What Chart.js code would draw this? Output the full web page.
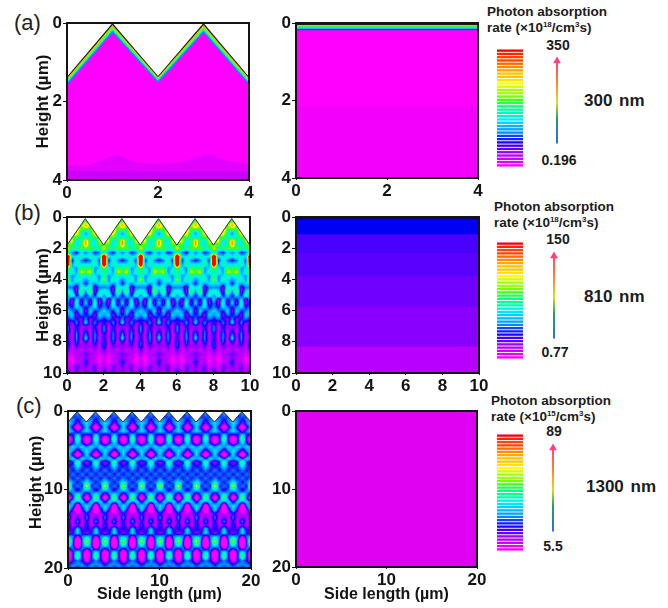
<!DOCTYPE html>
<html><head><meta charset="utf-8">
<style>
html,body{margin:0;padding:0;background:#fff;width:668px;height:608px;overflow:hidden}
canvas{position:absolute}
.t{position:absolute;font-family:"Liberation Sans",Arial,sans-serif;font-weight:bold;color:#1c1c1c;white-space:nowrap;line-height:1}
.p{font-weight:normal;font-size:22px;color:#222}
.h{font-size:13.5px}
.v{font-size:14px;transform:translateX(-50%)}
.w{font-size:17px;word-spacing:2px}
sup{font-size:8px;vertical-align:baseline;position:relative;top:-5px}
</style>
<script src="https://cdn.jsdelivr.net/npm/chart.js@4/dist/chart.umd.min.js"></script>
</head><body>
<div class="t p" style="left:14px;top:12px">(a)</div>
<div class="t p" style="left:14px;top:202px">(b)</div>
<div class="t p" style="left:16px;top:395px">(c)</div>
<div class="t h" style="left:487px;top:5px">Photon absorption</div>
<div class="t h" style="left:487px;top:21px">rate (×10<sup>18</sup>/cm<sup>3</sup>s)</div>
<div class="t h" style="left:494px;top:200px">Photon absorption</div>
<div class="t h" style="left:494px;top:216px">rate (×10<sup>18</sup>/cm<sup>3</sup>s)</div>
<div class="t h" style="left:491px;top:394px">Photon absorption</div>
<div class="t h" style="left:491px;top:410px">rate (×10<sup>15</sup>/cm<sup>3</sup>s)</div>
<div class="t v" style="left:558px;top:38px">350</div>
<div class="t v" style="left:559px;top:153px">0.196</div>
<div class="t v" style="left:558px;top:232px">150</div>
<div class="t v" style="left:555px;top:345px">0.77</div>
<div class="t v" style="left:554px;top:424px">89</div>
<div class="t v" style="left:553px;top:539px">5.5</div>
<div class="t w" style="left:584px;top:92px">300 nm</div>
<div class="t w" style="left:584px;top:288px">810 nm</div>
<div class="t w" style="left:586px;top:478px">1300 nm</div>
<script>
// ---------- axis ticks ----------
const ticksA = [0, 2, 4];
const ticksB = [0, 2, 4, 6, 8, 10];
const ticksCx = [0, 10, 20];
const ticksCy = [0, 10, 20];

// ---------- (a) 300 nm, textured: bands following the surface (depth in µm) ----------
const aX = [0, 1, 2, 3, 4];
const aSurface = [1.37, 0, 1.35, 0, 1.37];
const aBand1 = [1.41, 0.05, 1.38, 0.05, 1.41];
const aBand2 = [1.45, 0.10, 1.41, 0.10, 1.45];
const aBand3 = [1.49, 0.15, 1.44, 0.15, 1.49];
const aBand4 = [1.53, 0.20, 1.47, 0.20, 1.53];
const aBand5 = [1.58, 0.25, 1.52, 0.25, 1.58];
const aDeepX = [0, 0.5, 1.1, 1.5, 2, 2.5, 3.1, 3.5, 4];
const aDeep = [3.62, 3.62, 3.35, 3.55, 3.6, 3.55, 3.33, 3.5, 3.6];
const aDeeperX = [0, 4];
const aDeeper = [3.78, 3.78];
// (a) planar
const aPlanarX = [0, 4];
const aPlanarDepths = [0, 0.05, 0.08, 0.12, 0.15, 0.19, 2.15];
const aPlanarColors = ['#201a10', '#c8d000', '#40f040', '#00e0ff', '#4030f0', '#ff00ff', '#f200fb'];

// ---------- (b) 810 nm planar bands ----------
const bPlanarX = [0, 10];
const bPlanarDepths = [0, 0.15, 1.1, 2.3, 3.8, 5.75, 8.3];
const bPlanarColors = ['#00007a', '#0000f4', '#4a00ff', '#5a00ff', '#7000ff', '#8a00ff', '#b800ff'];

// ---------- (b) 810 nm textured: one 2 µm unit cell, level 0 (magenta) to 9 (red) ----------
// columns: 0, .25, .5, .75, 1 µm from the pyramid axis; rows every 0.25 µm of depth
const bUnitCols = [0, 0.25, 0.5, 0.75, 1];
const bUnitRows = [
 [5,5,5,5,5],[6,5,5,5,5],[8,6,5,5,5],[6,6,7.5,5,5],[3,5,7.5,6,5],[4,5,6,6,5],[8,5,4,7,6],[8,5,4,6,6],
 [5.5,6,5,5,7],[3,4,2,3,5],[4,5,4,4,12],[2,3,5,2,13],[4,4,5,3,12],[5,6,3,4,6],[6,7,3,5,5],[4,5,4,3,5],
 [3,4,5,3,7],[2,4,3,4,4],[4,5,1,3,3],[3,6,1,4,5],[2,4,2,5,3],[3,2,4,1,4],[4,1,5,1,3],[2,3,4,2,3],
 [1,4,2,3,4],[2,3,1,4,3],[3,1,2,3,2],[4,1,3,1,2],
 [1,1,2,0.5,3],[2,0.5,2.5,0.5,3],[3,0.5,3,0.5,2],[4,0.5,3,0.5,2],[2,0.5,2.5,0.5,2.5],[1,1,1.5,0.5,2.5],
 [1,0.5,1,0.5,1.5],[1.5,1,0.8,0.3,1],[1.2,0.8,0.8,0,0.5],[2,0.8,0.6,0,0.8],[1.5,0.8,1.5,0.3,0.8],[1,0.8,1.5,0.5,1.5],[2,1,1.5,0.8,2.5]
];
const bSurfaceX = [0,1,2,3,4,5,6,7,8,9,10];
const bSurface = [1.8,0.1,1.8,0.1,1.8,0.1,1.8,0.1,1.8,0.1,1.8];

// ---------- (c) 1300 nm textured: one 2 µm unit cell ----------
// columns: 0, .5, 1 µm from the pyramid axis; rows every 0.5 µm of depth
const cUnitCols = [0, 0.5, 1];
const cUnitRows = [
 [3,3,3],[3,2,3],[2,3,3],[1,3,4],[-1,1.5,4],[1,3,4],[4,2,1.5],[6,1.5,-1.5],[4,2,0],[3,4,3],
 [1,3,4],[-1.5,1.5,4],[2,4,3],[6,2,1],[4,2.5,2],[3,2,3],[2,3,2],[3,2,3],[2,3,4],[3,2,7.5],
 [1.5,3,4],[4,3,1],[6.5,2,-1],[3,4,1.5],[-1.5,3,4],[-1.5,1.5,4],[0.5,0.8,2],[1.5,0.5,3],[3,0.5,2],[1.5,0.5,2.5],
 [4,1.5,2],[4,2,1],[0,3,4],[-3,2.5,7],[-3,2.5,5],[1,3,1.5],[5,2,-2],[6,2,-2],[3,2,0],[3,3,2],[2,3,3]
];
const cSurfaceX = [0,1,2,3,4,5,6,7,8,9,10,11,12,13,14,15,16,17,18,19,20];
const cSurface = [1.4,0.1,1.4,0.1,1.4,0.1,1.4,0.1,1.4,0.1,1.4,0.1,1.4,0.1,1.4,0.1,1.4,0.1,1.4,0.1,1.4];
// (c) planar
const cPlanarX = [0, 20];
const cPlanarDepths = [0];
const cPlanarColors = ['#e000f2'];

// ---------- colour legend: levels of the stripes from top to bottom ----------
const legendLevels = [9,8.8,8.6,8.4,8.2,8,7.8,7.6,7.4,7.2,7,6.8,6.6,6.4,6.2,6,5.6,5.3,5,4.7,4.4,4.1,3.8,3.5,3.2,2.9,2.6,2.3,2,1.7,1.4,1.1,0.8,0.5,0.2,0];
const arrowA = [0.196, 350], arrowB = [0.77, 150], arrowC = [5.5, 89];

// ---------- colour map ----------
const stops = [[255,0,255],[160,0,255],[24,0,255],[0,140,255],[0,232,255],[0,255,160],[70,255,20],[255,255,0],[255,140,0],[255,0,0]];
function rgbOf(v){
  v = Math.max(0, Math.min(9, Math.round(v*4)/4));
  const i = Math.min(8, Math.floor(v)), f = v-i, a = stops[i], b = stops[i+1];
  return [a[0]+(b[0]-a[0])*f, a[1]+(b[1]-a[1])*f, a[2]+(b[2]-a[2])*f];
}
function cssOf(v){const c=rgbOf(v);return `rgb(${c[0]|0},${c[1]|0},${c[2]|0})`;}

// expand a unit cell over the panel width, as contour nodes {x,y,v}
function expand(rows, cols, width, rowStep){
  const step = cols[1]-cols[0], out = [];
  rows.forEach((r,ri)=>{
    for(let k=0;k<=Math.round(width/step);k++){
      const x = k*step, m = x%2, u = Math.abs(m-1);
      out.push({x, y: ri*rowStep, v: r[Math.round(u/step)]});
    }
  });
  return out;
}

// contour plugin: paints dataset nodes through the chart's scales
const contour = {
  id:'contour',
  beforeDatasetsDraw(chart){
    const ds = chart.data.datasets.find(d=>d.contour);
    if(!ds) return;
    const xs=[...new Set(ds.data.map(d=>d.x))].sort((a,b)=>a-b);
    const ys=[...new Set(ds.data.map(d=>d.y))].sort((a,b)=>a-b);
    const dx=xs[1]-xs[0], dy=ys[1]-ys[0], nx=xs.length, ny=ys.length;
    const g=new Float32Array(nx*ny);
    ds.data.forEach(d=>{g[Math.round(d.y/dy)*nx+Math.round(d.x/dx)]=d.v;});
    const A=chart.chartArea, X=chart.scales.x, Y=chart.scales.y;
    const L=Math.round(A.left), T=Math.round(A.top), W=Math.round(A.right)-L, H=Math.round(A.bottom)-T;
    const img=chart.ctx.createImageData(W,H);
    for(let j=0;j<H;j++){
      const fy=Math.max(0,Math.min(ny-1.001,Y.getValueForPixel(T+j)/dy)), j0=Math.floor(fy), ty=fy-j0;
      for(let i=0;i<W;i++){
        const fx=Math.max(0,Math.min(nx-1.001,X.getValueForPixel(L+i)/dx)), i0=Math.floor(fx), tx=fx-i0;
        const v=(g[j0*nx+i0]*(1-tx)+g[j0*nx+i0+1]*tx)*(1-ty)+(g[(j0+1)*nx+i0]*(1-tx)+g[(j0+1)*nx+i0+1]*tx)*ty;
        const c=rgbOf(v), o=(j*W+i)*4;
        img.data[o]=c[0];img.data[o+1]=c[1];img.data[o+2]=c[2];img.data[o+3]=255;
      }
    }
    chart.ctx.putImageData(img,L,T);
  }
};
const frame = {
  id:'frame',
  afterDraw(chart){
    if(chart.config.options.noFrame) return;
    const a=chart.chartArea,c=chart.ctx;
    c.save();c.strokeStyle='#141414';c.lineWidth=2;
    c.strokeRect(a.left,a.top,a.right-a.left,a.bottom-a.top);c.restore();
  }
};
Chart.register(contour,frame);

const FONT='"Liberation Sans",Arial,sans-serif';
function layerDs(xs,ys,color){
  return {type:'line',data:xs.map((x,i)=>({x,y:ys[i]})),fill:'start',backgroundColor:color,borderColor:color,borderWidth:0,pointRadius:0,tension:0};
}
function flat(xs,depth){return xs.map(()=>depth);}
function panel(id,plot,xMax,yMax,xt,yt,datasets,titleY,titleX,leftW,bottomH){
  const cv=document.createElement('canvas');
  const cl=plot.x0-leftW, ct=plot.y0-12, cw=plot.x1-plot.x0+leftW+14, ch=plot.y1-plot.y0+12+bottomH;
  cv.id=id;cv.width=cw;cv.height=ch;
  cv.style.cssText=`left:${cl}px;top:${ct}px;width:${cw}px;height:${ch}px`;
  document.body.appendChild(cv);
  new Chart(cv,{type:'scatter',data:{datasets},options:{
    responsive:false,animation:false,
    layout:{padding:{left:0,right:14,top:12,bottom:0}},
    plugins:{legend:{display:false},tooltip:{enabled:false},filler:{propagate:false}},
    scales:{
      x:{type:'linear',min:0,max:xMax,
        afterBuildTicks:s=>{s.ticks=xt.map(value=>({value}));},
        afterFit:s=>{s.height=bottomH;},
        border:{display:false},
        grid:{drawOnChartArea:false,tickLength:2,color:'#141414'},
        ticks:{autoSkip:false,maxRotation:0,padding:1,color:'#141414',font:{family:FONT,weight:'bold',size:17}},
        title:{display:!!titleX,text:titleX||'',color:'#141414',padding:0,font:{family:FONT,weight:'bold',size:16}}},
      y:{type:'linear',reverse:true,min:0,max:yMax,
        afterBuildTicks:s=>{s.ticks=yt.map(value=>({value}));},
        afterFit:s=>{s.width=leftW;},
        border:{display:false},
        grid:{drawOnChartArea:false,tickLength:4,color:'#141414'},
        ticks:{autoSkip:false,padding:1,color:'#141414',font:{family:FONT,weight:'bold',size:17}},
        title:{display:!!titleY,text:titleY||'',color:'#141414',padding:0,font:{family:FONT,weight:'bold',size:17}}}
    }
  }});
}

const HT='Height (µm)', SL='Side length (µm)';

panel('aL',{x0:67,x1:249,y0:23,y1:180},4,4,ticksA,ticksA,[
  layerDs(aDeeperX,aDeeper,'#cc00fa'),
  layerDs(aDeepX,aDeep,'#e400ff'),
  layerDs(aX,aBand5,'#ff00ff'),
  layerDs(aX,aBand4,'#0090ff'),
  layerDs(aX,aBand3,'#00f0d0'),
  layerDs(aX,aBand2,'#60ff30'),
  layerDs(aX,aBand1,'#d8c800'),
  layerDs(aX,aSurface,'#1a1a10')
],HT,null,34,24);

panel('aR',{x0:296,x1:478,y0:23,y1:178},4,4,ticksA,ticksA,
  aPlanarDepths.map((d,i)=>layerDs(aPlanarX,flat(aPlanarX,d),aPlanarColors[i])).reverse(),null,null,40,24);

panel('bL',{x0:67,x1:250,y0:217,y1:373},10,10,ticksB,ticksB,[
  {type:'line',data:bSurfaceX.map((x,i)=>({x,y:bSurface[i]})),fill:'end',backgroundColor:'#fff',borderColor:'#333',borderWidth:1,pointRadius:0,tension:0},
  {contour:true,data:expand(bUnitRows,bUnitCols,10,0.25),pointRadius:0,showLine:false}
],HT,null,34,24);

panel('bR',{x0:296,x1:479,y0:217,y1:373},10,10,ticksB,ticksB,
  bPlanarDepths.map((d,i)=>layerDs(bPlanarX,flat(bPlanarX,d),bPlanarColors[i])).reverse(),null,null,40,24);

panel('cL',{x0:68,x1:251,y0:411,y1:568},20,20,ticksCx,ticksCy,[
  {type:'line',data:cSurfaceX.map((x,i)=>({x,y:cSurface[i]})),fill:'end',backgroundColor:'#fff',borderColor:'#333',borderWidth:1,pointRadius:0,tension:0},
  {contour:true,data:expand(cUnitRows,cUnitCols,20,0.5),pointRadius:0,showLine:false}
],'\u00a0\u00a0\u00a0'+HT,SL,42,36);

panel('cR',{x0:296,x1:477,y0:411,y1:567},20,20,ticksCx,ticksCy,
  cPlanarDepths.map((d,i)=>layerDs(cPlanarX,flat(cPlanarX,d),cPlanarColors[i])).reverse(),null,SL,40,37);

// ---------- colour legends ----------
function legendBar(id,l,t,w,h){
  const cv=document.createElement('canvas');cv.id=id;cv.width=w;cv.height=h;
  cv.style.cssText=`left:${l}px;top:${t}px;width:${w}px;height:${h}px`;document.body.appendChild(cv);
  new Chart(cv,{type:'bar',data:{labels:legendLevels.map(String),datasets:[{
      data:legendLevels.map(()=>1),backgroundColor:legendLevels.map(cssOf),barPercentage:0.72,categoryPercentage:1}]},
    options:{noFrame:true,indexAxis:'y',responsive:false,animation:false,
      plugins:{legend:{display:false},tooltip:{enabled:false}},
      scales:{x:{display:false,min:0,max:1},y:{display:false}}}});
}
function arrow(id,l,t,h,vals){
  const cv=document.createElement('canvas');cv.id=id;cv.width=16;cv.height=h;
  cv.style.cssText=`left:${l-8}px;top:${t}px;width:16px;height:${h}px`;document.body.appendChild(cv);
  new Chart(cv,{type:'line',data:{datasets:[{
      data:[{x:0,y:vals[0]},{x:0,y:vals[1]}],tension:0,borderWidth:2,clip:false,
      borderColor(c){const a=c.chart.chartArea;if(!a)return '#888';
        const g=c.chart.ctx.createLinearGradient(0,a.bottom,0,a.top);
        g.addColorStop(0,'#2f6fe0');g.addColorStop(.3,'#20a060');g.addColorStop(.5,'#d8e020');g.addColorStop(.75,'#ff8030');g.addColorStop(1,'#ff4080');return g;},
      pointStyle:'triangle',pointRadius:[0,4.5],pointBackgroundColor:'#ff4080',pointBorderColor:'#ff4080',pointBorderWidth:0}]},
    options:{noFrame:true,responsive:false,animation:false,layout:{padding:{top:6,bottom:0}},
      plugins:{legend:{display:false},tooltip:{enabled:false}},
      scales:{x:{type:'linear',display:false,min:-1,max:1},y:{type:'linear',display:false,min:vals[0],max:vals[1]}}}});
}
legendBar('lgA',497,49,26,118);
legendBar('lgB',497,242,26,117);
legendBar('lgC',497,434,26,117);
arrow('arA',557,55,93,arrowA);
arrow('arB',554,250,93,arrowB);
arrow('arC',553,442,94,arrowC);
</script>
</body></html>
